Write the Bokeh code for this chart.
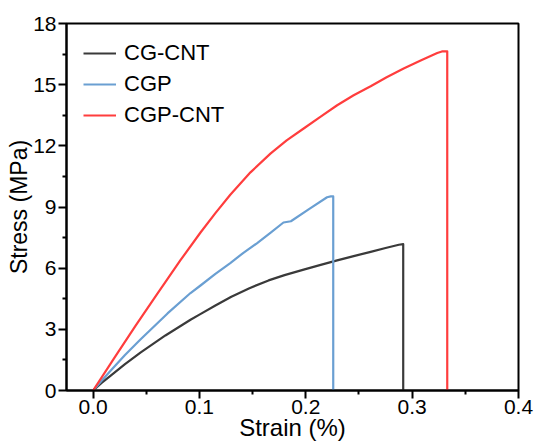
from bokeh.plotting import figure
from bokeh.models import Range1d, FixedTicker, Legend, LegendItem
from bokeh.embed import file_html
from bokeh.resources import INLINE

# ---- data ----
strain_cgcnt = [0.0, 0.008, 0.016, 0.03, 0.0445, 0.068, 0.0916, 0.1, 0.115, 0.13, 0.147, 0.165, 0.18,
                0.198, 0.214, 0.2295, 0.245, 0.261, 0.275, 0.2875, 0.2916, 0.2916]
stress_cgcnt = [0.0, 0.37, 0.71, 1.29, 1.86, 2.70, 3.47, 3.72, 4.17, 4.60, 5.02, 5.40, 5.66,
                5.93, 6.16, 6.38, 6.59, 6.80, 6.99, 7.15, 7.18, 0.0]

strain_cgp = [0.0, 0.008, 0.016, 0.03, 0.0445, 0.07, 0.0916, 0.101, 0.115, 0.129, 0.141, 0.154, 0.167,
              0.179, 0.186, 0.203, 0.220, 0.2235, 0.2258, 0.2258]
stress_cgp = [0.0, 0.48, 0.94, 1.74, 2.50, 3.78, 4.78, 5.15, 5.72, 6.25, 6.74, 7.22, 7.74,
              8.24, 8.30, 8.90, 9.48, 9.52, 9.52, 0.0]

strain_cgpcnt = [0.0, 0.02, 0.04, 0.06, 0.082, 0.101, 0.115, 0.129, 0.148, 0.167, 0.182, 0.198, 0.214,
                 0.2295, 0.245, 0.261, 0.276, 0.292, 0.308, 0.3236, 0.328, 0.333, 0.333]
stress_cgpcnt = [0.0, 1.60, 3.18, 4.72, 6.38, 7.75, 8.70, 9.60, 10.70, 11.63, 12.27, 12.85, 13.43,
                 13.99, 14.48, 14.92, 15.36, 15.79, 16.18, 16.55, 16.63, 16.64, 0.0]

series_names = ["CG-CNT", "CGP", "CGP-CNT"]
series_colors = ["#3a3a3a", "#6a9fd2", "#ff3d3d"]

x_ticks = [0.0, 0.1, 0.2, 0.3, 0.4]
x_tick_labels = ["0.0", "0.1", "0.2", "0.3", "0.4"]
x_minor = [0.05, 0.15, 0.25, 0.35]
y_ticks = [0, 3, 6, 9, 12, 15, 18]
y_tick_labels = ["0", "3", "6", "9", "12", "15", "18"]
y_minor = [1.5, 4.5, 7.5, 10.5, 13.5, 16.5]

FONT = "Liberation Sans"

p = figure(width=536, height=444, output_backend="svg", toolbar_location=None,
           x_range=Range1d(-0.025, 0.4), y_range=Range1d(0, 18),
           min_border_left=66, min_border_right=18, min_border_top=23, min_border_bottom=54)

p.xgrid.visible = False
p.ygrid.visible = False
p.outline_line_color = "black"
p.outline_line_width = 2
p.outline_line_alpha = 1.0

renderers = []
for xs, ys, col in [(strain_cgcnt, stress_cgcnt, series_colors[0]),
                    (strain_cgp, stress_cgp, series_colors[1]),
                    (strain_cgpcnt, stress_cgpcnt, series_colors[2])]:
    r = p.line(xs, ys, line_color=col, line_width=2.2, line_join="round")
    renderers.append(r)

p.xaxis.ticker = FixedTicker(ticks=x_ticks, minor_ticks=x_minor)
p.yaxis.ticker = FixedTicker(ticks=y_ticks, minor_ticks=y_minor)
p.xaxis.major_label_overrides = {t: l for t, l in zip(x_ticks, x_tick_labels)}
p.yaxis.major_label_overrides = {t: l for t, l in zip(y_ticks, y_tick_labels)}

for ax in (p.xaxis[0], p.yaxis[0]):
    ax.axis_line_width = 2
    ax.axis_line_color = "black"
    ax.major_tick_line_width = 2
    ax.minor_tick_line_width = 2
    ax.major_tick_in = 0
    ax.major_tick_out = 8
    ax.minor_tick_in = 0
    ax.minor_tick_out = 4
    ax.major_label_text_font = FONT
    ax.major_label_text_font_size = "21px"
    ax.major_label_text_color = "black"
    ax.axis_label_text_font = FONT
    ax.axis_label_text_font_size = "23px"
    ax.axis_label_text_font_style = "normal"
    ax.axis_label_text_color = "black"

p.yaxis.axis_label_standoff = -2
p.yaxis.major_label_standoff = 2
p.xaxis.major_label_standoff = 1
p.xaxis.axis_label_standoff = -3
p.xaxis.axis_label_text_font_size = "24px"

p.xaxis.axis_label = "Strain (%)"
p.yaxis.axis_label = "Stress (MPa)"

legend = Legend(items=[LegendItem(label=n, renderers=[r]) for n, r in zip(series_names, renderers)],
                location="top_left")
legend.label_text_font = FONT
legend.label_text_font_size = "22px"
legend.label_text_color = "black"
legend.border_line_alpha = 0
legend.background_fill_alpha = 0
legend.margin = 3
legend.padding = 14
legend.spacing = 5
legend.glyph_width = 33
legend.glyph_height = 22
legend.label_height = 22
legend.label_standoff = 8
p.add_layout(legend)

open("out.html", "w").write(file_html(p, INLINE))
